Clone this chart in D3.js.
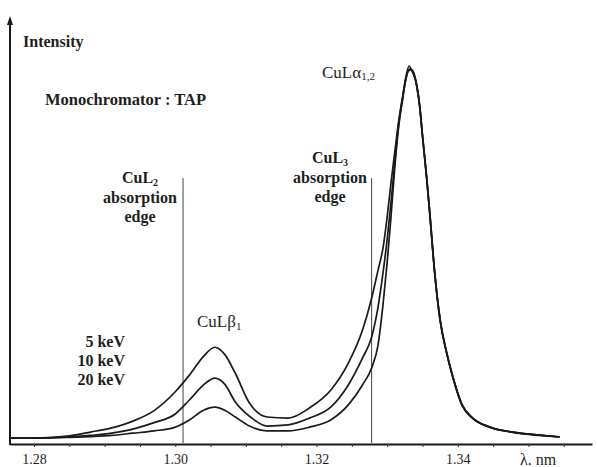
<!DOCTYPE html>
<html>
<head>
<meta charset="utf-8">
<script src="https://cdn.jsdelivr.net/npm/d3@7/dist/d3.min.js"></script>
<style>
  html, body { margin: 0; padding: 0; background: #fff; }
  svg { display: block; }
  text { font-family: "Liberation Serif", "DejaVu Serif", serif; fill: #1e1e1e; }
</style>
</head>
<body>
<svg id="chart" width="597" height="467"></svg>
<script>
// ---- data ----
const lambda = [1.2766, 1.2800, 1.2850, 1.2880, 1.2910, 1.2940, 1.2970, 1.3000, 1.3020, 1.3040,
                1.3056, 1.3070, 1.3085, 1.3105, 1.3130, 1.3160, 1.3190, 1.3220, 1.3245, 1.3265,
                1.3278, 1.3287, 1.3294, 1.3300, 1.3305, 1.3311, 1.3316, 1.3322, 1.3326, 1.3331,
                1.3335, 1.3342, 1.3346, 1.3350, 1.3356, 1.3360, 1.3367, 1.3375, 1.3384, 1.3393,
                1.3406, 1.3421, 1.3445, 1.3478, 1.3516, 1.3544];
const int5keV = [1.3, 1.3, 1.9, 2.9, 4.0, 5.8, 8.6, 13.6, 18.0, 23.0,
                 25.4, 23.5, 18.5, 10.6, 6.9, 6.6, 9.3, 14.0, 21.2, 29.9,
                 38.4, 45.8, 51.6, 60.0, 68.3, 77.6, 85.0, 92.1, 96.6, 100.0,
                 98.7, 94.7, 89.4, 81.5, 70.2, 61.7, 45.8, 32.6, 24.1, 17.5,
                 10.1, 6.6, 4.2, 2.9, 2.1, 1.6];
const int10keV = [1.3, 1.3, 1.6, 2.0, 2.6, 3.7, 5.4, 7.7, 11.4, 15.4,
                  17.2, 15.6, 10.9, 7.1, 4.5, 4.8, 6.6, 9.5, 15.4, 22.5,
                  28.1, 36.0, 45.0, 54.0, 63.0, 74.9, 84.2, 91.6, 96.1, 99.2,
                  98.9, 94.5, 89.2, 81.3, 70.0, 61.5, 45.6, 32.4, 24.0, 17.4,
                  10.0, 6.5, 4.2, 2.8, 2.0, 1.6];
const int20keV = [1.3, 1.3, 1.5, 1.7, 2.0, 2.6, 3.2, 4.2, 6.1, 8.7,
                  9.5, 8.7, 6.9, 4.5, 3.2, 3.2, 4.2, 6.1, 10.1, 15.4,
                  19.9, 25.9, 36.5, 47.9, 59.0, 73.6, 83.4, 91.3, 96.1, 98.8,
                  99.0, 94.8, 89.6, 81.7, 70.3, 61.8, 45.9, 32.7, 24.2, 17.6,
                  10.2, 6.7, 4.3, 2.9, 2.1, 1.6];
const seriesList = [int5keV, int10keV, int20keV];
const energyLabels = ["5 keV", "10 keV", "20 keV"];
const tickValues = [1.280, 1.285, 1.290, 1.295, 1.300, 1.305, 1.310, 1.315, 1.320,
                    1.325, 1.330, 1.335, 1.340, 1.345, 1.350, 1.355];
const tickLabels = ["1.28", "1.30", "1.32", "1.34"];
const edgeLambda = [1.3011, 1.3278];   // CuL2, CuL3 absorption edges

// ---- layout ----
const svg = d3.select("#chart");
const x = d3.scaleLinear().domain([1.2766, 1.3590]).range([10, 592]);
const y = d3.scaleLinear().domain([0, 100]).range([443, 66]);

// absorption edge lines
svg.selectAll("line.edge").data(edgeLambda).enter().append("line")
  .attr("class", "edge")
  .attr("x1", d => x(d)).attr("x2", d => x(d))
  .attr("y1", 178).attr("y2", y(0))
  .attr("stroke", "#444").attr("stroke-width", 1);

// spectra
const line = d3.line()
  .x((d, i) => x(lambda[i]))
  .y(d => y(d))
  .curve(d3.curveMonotoneX);
svg.selectAll("path.spec").data(seriesList).enter().append("path")
  .attr("class", "spec")
  .attr("d", d => line(d))
  .attr("fill", "none")
  .attr("stroke", "#1a1a1a")
  .attr("stroke-width", 1.7)
  .attr("stroke-linejoin", "round");

// x axis
const xAxis = d3.axisBottom(x)
  .tickValues(tickValues)
  .tickSizeInner(3).tickSizeOuter(0)
  .tickFormat(d => {
    const s = d3.format(".2f")(d);
    return tickLabels.includes(s) && Math.abs(d * 100 - Math.round(d * 100)) < 1e-6 ? s : "";
  });
const gx = svg.append("g").attr("transform", `translate(0,${y(0) + 1})`).call(xAxis);
gx.select(".domain").attr("stroke", "#1a1a1a").attr("stroke-width", 2);
gx.selectAll(".tick line").attr("stroke", "#333").attr("stroke-width", 1);
gx.selectAll(".tick text")
  .attr("font-family", "Liberation Serif, serif")
  .attr("font-size", 14).attr("fill", "#222").attr("dy", "1.0em");

// y axis with arrow
svg.append("line")
  .attr("x1", 10).attr("x2", 10).attr("y1", y(0) + 2).attr("y2", 20)
  .attr("stroke", "#1a1a1a").attr("stroke-width", 2);
svg.append("path")
  .attr("d", "M10,16 L7,25 L13,25 Z")
  .attr("fill", "#1a1a1a");

// texts
svg.append("text").attr("x", 23).attr("y", 47)
  .attr("font-size", 16).attr("font-weight", "bold").text("Intensity");
svg.append("text").attr("x", 45).attr("y", 105)
  .attr("font-size", 16.5).attr("font-weight", "bold").text("Monochromator : TAP");

svg.append("text").attr("x", 520).attr("y", 465)
  .attr("font-size", 16).text("λ. nm");

function edgeLabel(cx, y0, sub) {
  const t = svg.append("text").attr("x", cx).attr("y", y0)
    .attr("text-anchor", "middle").attr("font-size", 16).attr("font-weight", "bold");
  t.append("tspan").text("CuL");
  t.append("tspan").attr("font-size", 10).attr("dy", 3).text(sub);
  svg.append("text").attr("x", cx).attr("y", y0 + 20)
    .attr("text-anchor", "middle").attr("font-size", 16).attr("font-weight", "bold").text("absorption");
  svg.append("text").attr("x", cx).attr("y", y0 + 39)
    .attr("text-anchor", "middle").attr("font-size", 16).attr("font-weight", "bold").text("edge");
}
edgeLabel(140, 183, "2");
edgeLabel(330, 163, "3");

// CuL alpha label
const ta = svg.append("text").attr("x", 322).attr("y", 78).attr("font-size", 17);
ta.append("tspan").text("CuLα");
ta.append("tspan").attr("font-size", 11).attr("dy", 2).text("1,2");

// CuL beta label
const tb = svg.append("text").attr("x", 197).attr("y", 327).attr("font-size", 17);
tb.append("tspan").text("CuLβ");
tb.append("tspan").attr("font-size", 11).attr("dy", 3).text("1");

// energy labels
svg.selectAll("text.energy").data(energyLabels).enter().append("text")
  .attr("class", "energy")
  .attr("x", 125).attr("y", (d, i) => 347 + i * 19)
  .attr("text-anchor", "end")
  .attr("font-size", 16).attr("font-weight", "bold")
  .text(d => d);
</script>
</body>
</html>
